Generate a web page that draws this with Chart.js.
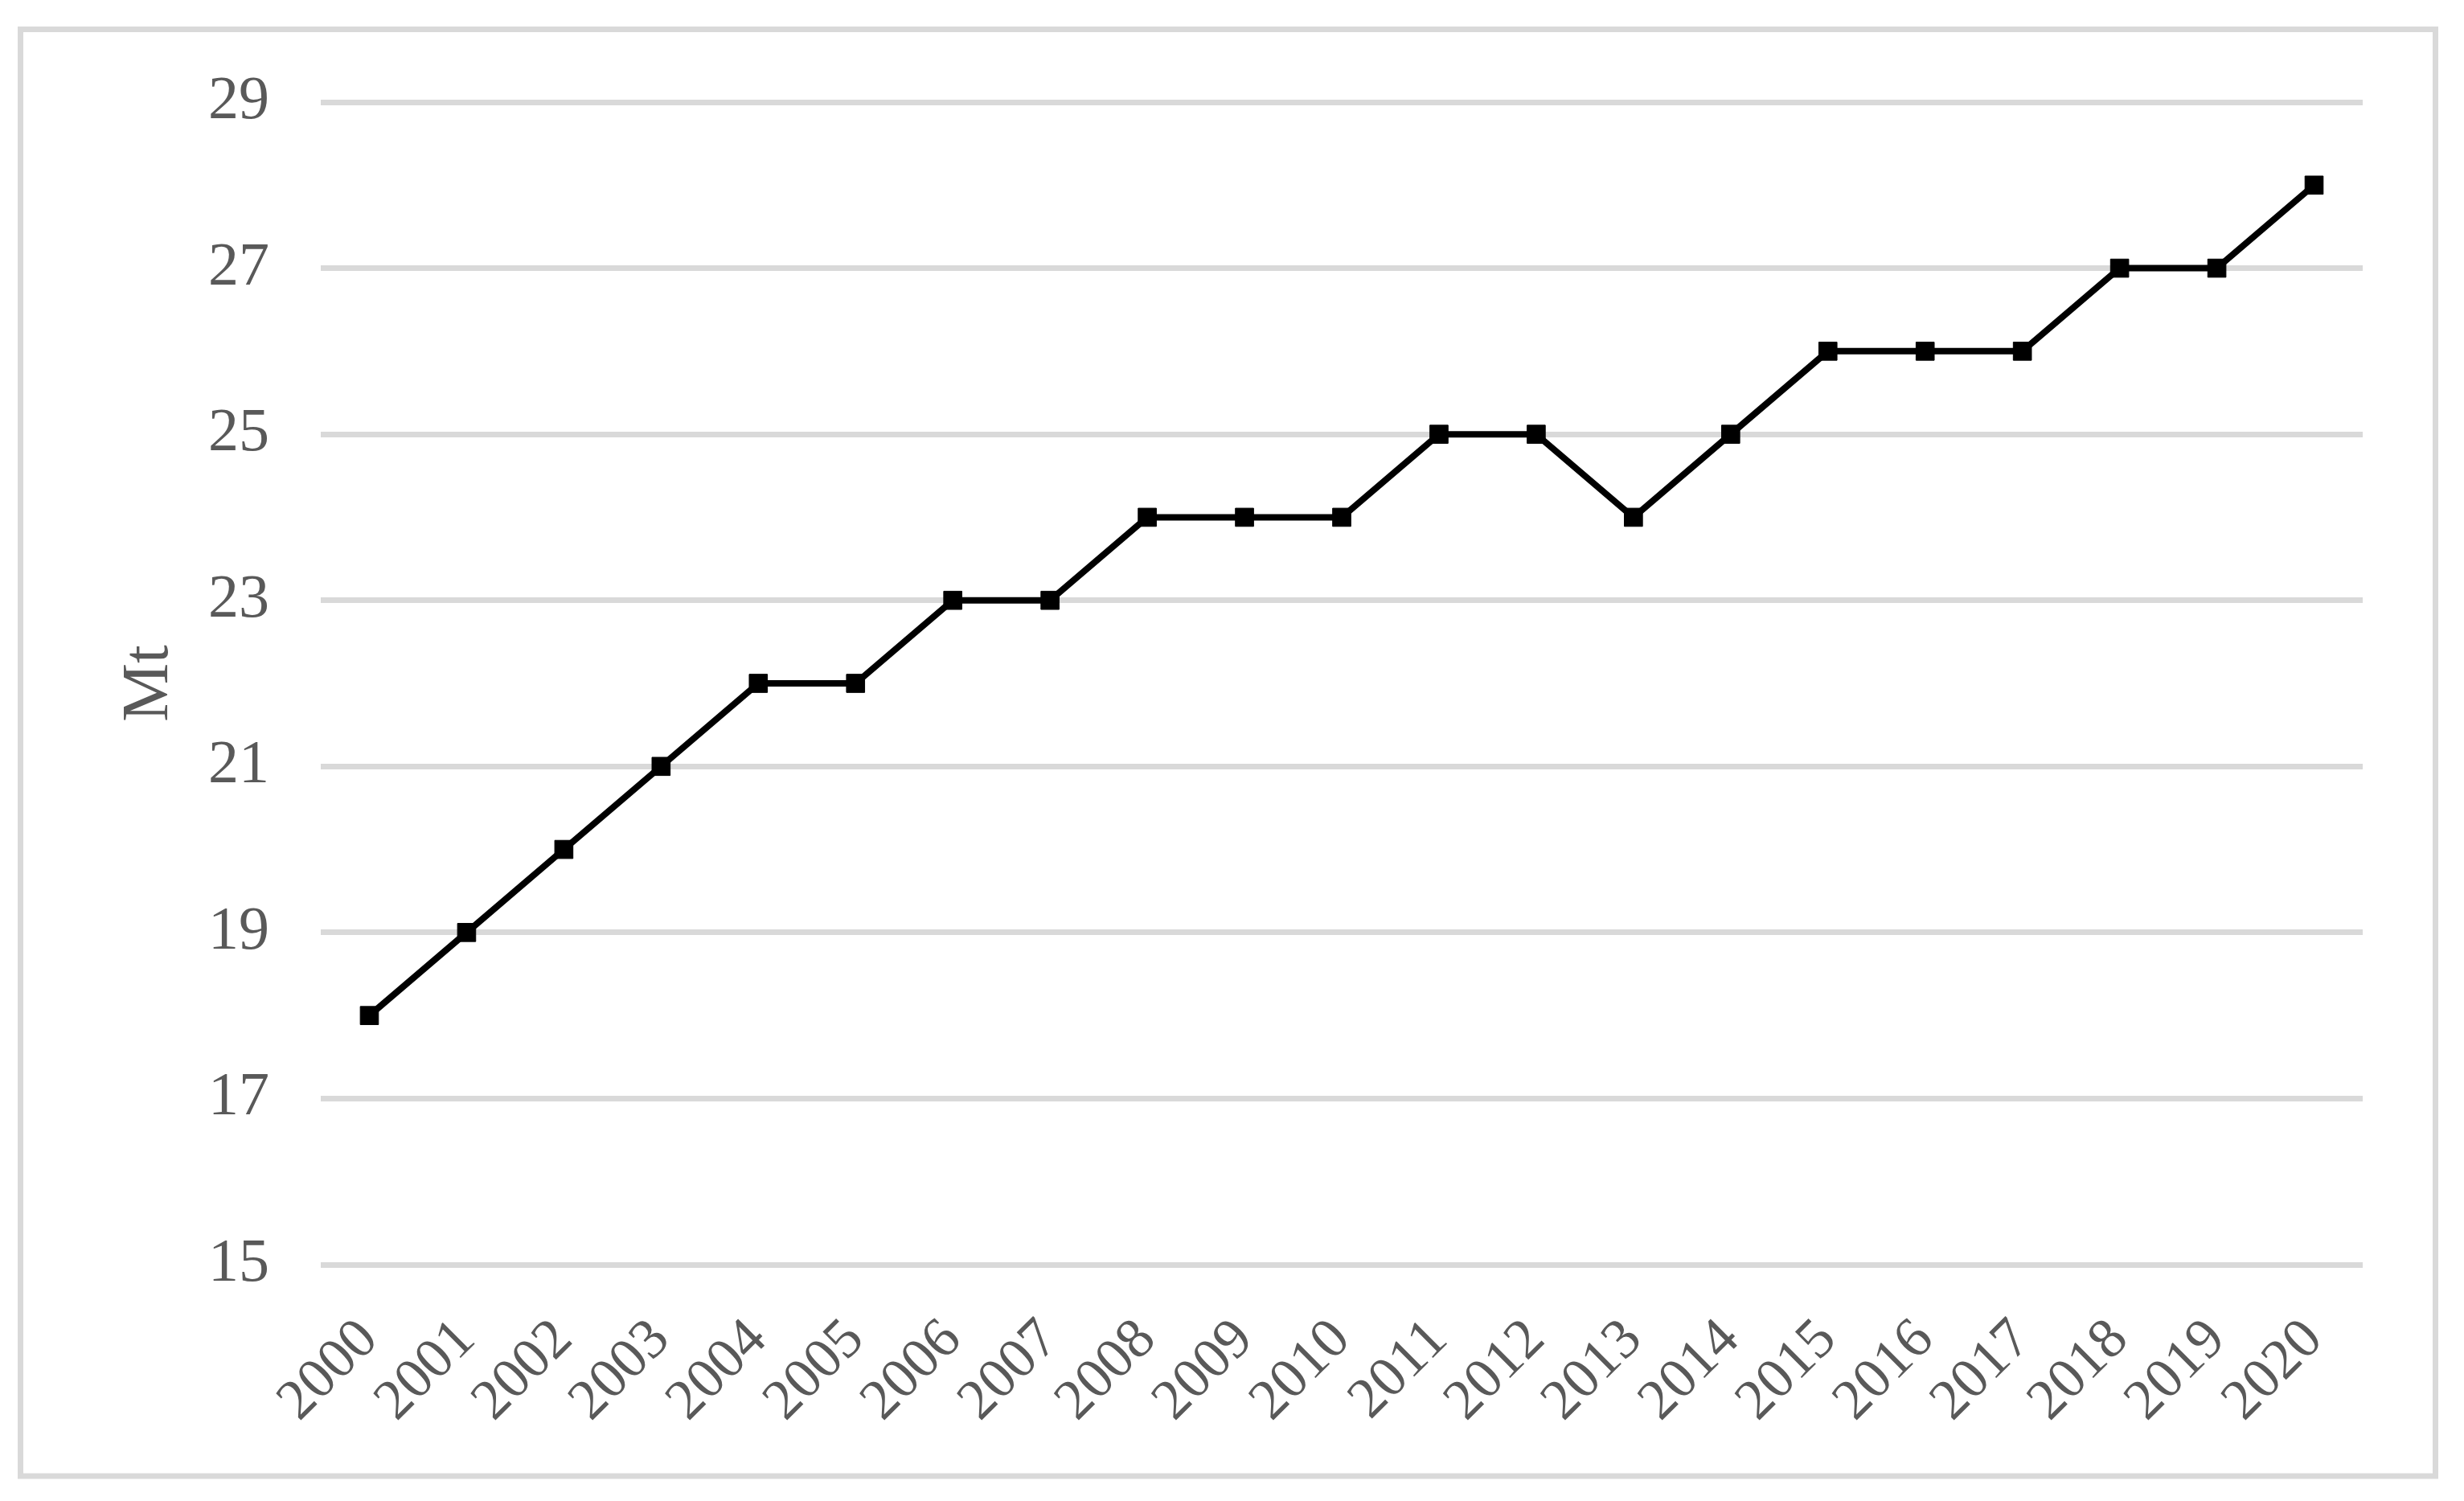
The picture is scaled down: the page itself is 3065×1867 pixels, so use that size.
<!DOCTYPE html>
<html>
<head>
<meta charset="utf-8">
<script src="https://cdn.jsdelivr.net/npm/chart.js@4.4.1/dist/chart.umd.min.js"></script>
<style>
  html, body { margin: 0; padding: 0; background: #ffffff; }
  #wrap { position: absolute; left: 0; top: 0; width: 3065px; height: 1867px; }
</style>
</head>
<body>
<div id="wrap"><canvas id="c" width="3065" height="1867"></canvas></div>
<script>
const years = ['2000','2001','2002','2003','2004','2005','2006','2007','2008','2009','2010','2011','2012','2013','2014','2015','2016','2017','2018','2019','2020'];
const production = [18, 19, 20, 21, 22, 22, 23, 23, 24, 24, 24, 25, 25, 24, 25, 26, 26, 26, 27, 27, 28];
const yTicks = [15, 17, 19, 21, 23, 25, 27, 29];
const yTitle = 'Mt';

const frame = {
  id: 'frame',
  beforeDraw(chart) {
    const ctx = chart.ctx;
    ctx.save();
    ctx.fillStyle = '#ffffff';
    ctx.fillRect(0, 0, chart.width, chart.height);
    ctx.strokeStyle = '#d9d9d9';
    ctx.lineWidth = 7;
    ctx.strokeRect(25.5, 36.5, 3004, 1799.5);
    ctx.restore();
  }
};

const FONT = "'Liberation Serif', 'Times New Roman', serif";

new Chart(document.getElementById('c'), {
  type: 'line',
  data: {
    labels: years,
    datasets: [{
      data: production,
      borderColor: '#000000',
      backgroundColor: '#000000',
      borderWidth: 8,
      pointStyle: 'rect',
      pointRadius: 16,
      pointBorderWidth: 1,
      pointBorderColor: '#000000',
      pointBackgroundColor: '#000000',
      tension: 0,
      fill: false
    }]
  },
  options: {
    responsive: false,
    animation: false,
    devicePixelRatio: 1,
    layout: { padding: { left: 0, top: 127, right: 126, bottom: 0 } },
    plugins: { legend: { display: false }, tooltip: { enabled: false } },
    scales: {
      x: {
        type: 'category',
        offset: true,
        grid: { display: false, drawTicks: false },
        border: { display: false },
        ticks: {
          autoSkip: false,
          minRotation: 45,
          maxRotation: 45,
          padding: 52,
          color: '#595959',
          font: { family: FONT, size: 71 }
        },
        afterFit(scale) { scale.height = 294; }
      },
      y: {
        min: 15,
        max: 29,
        afterBuildTicks(scale) { scale.ticks = yTicks.map(v => ({ value: v })); },
        grid: { color: '#d9d9d9', lineWidth: 7, drawTicks: false },
        border: { display: false },
        ticks: {
          padding: 64,
          color: '#595959',
          font: { family: FONT, size: 76 }
        },
        title: {
          display: true,
          text: yTitle,
          color: '#595959',
          padding: 137,
          font: { family: FONT, size: 82 }
        },
        afterFit(scale) { scale.width = 399; }
      }
    }
  },
  plugins: [frame]
});
</script>
</body>
</html>
